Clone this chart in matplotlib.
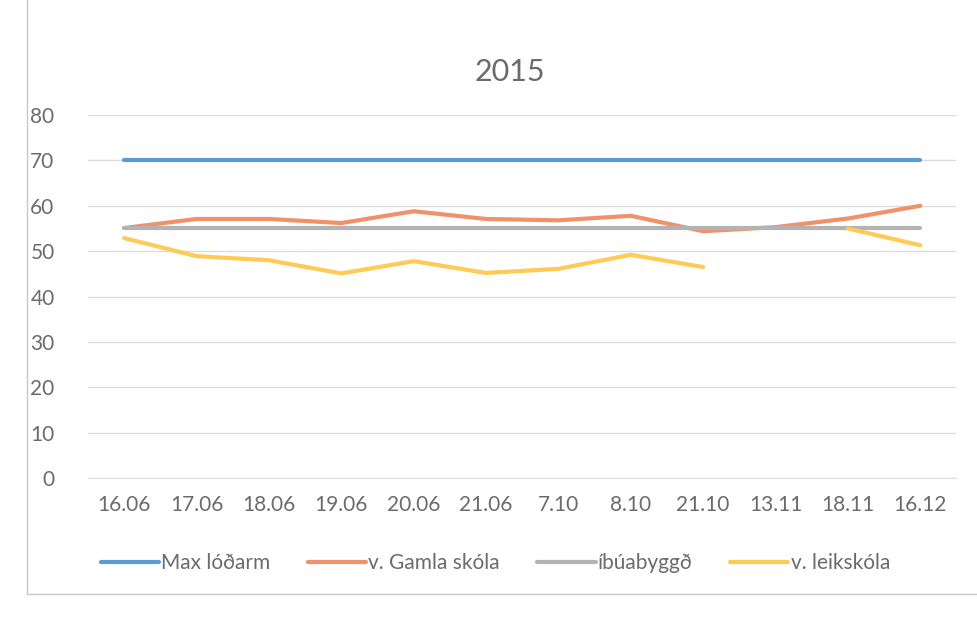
import matplotlib
matplotlib.use("Agg")
import matplotlib.pyplot as plt
import numpy as np

categories = ["16.06", "17.06", "18.06", "19.06", "20.06", "21.06",
              "7.10", "8.10", "21.10", "13.11", "18.11", "16.12"]
max_lodarm = [70, 70, 70, 70, 70, 70, 70, 70, 70, 70, 70, 70]
gamla_skola = [55.1, 57.1, 57.1, 56.2, 58.8, 57.1, 56.8, 57.8, 54.4, 55.3, 57.2, 60.0]
ibuabyggd = [55, 55, 55, 55, 55, 55, 55, 55, 55, 55, 55, 55]
leikskola = [52.9, 48.9, 48.0, 45.1, 47.8, 45.2, 46.1, 49.2, 46.5, np.nan, 55.0, 51.3]
series_names = ["Max lóðarm", "v. Gamla skóla", "íbúabyggð", "v. leikskóla"]
yticks = [0, 10, 20, 30, 40, 50, 60, 70, 80]

colors = ["#5b9bd5", "#f0916a", "#b3b3b3", "#ffca55"]
txt = "#6b6b6b"
plt.rcParams['font.family'] = ['Lato', 'DejaVu Sans']

fig = plt.figure(figsize=(9.77, 6.19), dpi=100)
ax = fig.add_axes([0.09, 0.228, 0.889, 0.586])
x = np.arange(len(categories))
for vals, name, c in zip([max_lodarm, gamla_skola, ibuabyggd, leikskola], series_names, colors):
    ax.plot(x, vals, color=c, lw=3, label=name, solid_capstyle='round', solid_joinstyle='round')

ax.set_xlim(-0.5, len(categories) - 0.5)
ax.set_ylim(0, 80)
ax.set_yticks(yticks)
ax.set_xticks(x)
ax.set_xticklabels(categories)
ax.tick_params(length=0, labelsize=15, colors=txt, pad=12)
ax.tick_params(axis='y', pad=24)
ax.yaxis.grid(True, color="#dcdcdc", lw=1)
ax.set_axisbelow(True)
for s in ["top", "right", "left"]:
    ax.spines[s].set_visible(False)
ax.spines["bottom"].set_color("#dcdcdc")

fig.text(0.522, 0.883, "2015", ha="center", va="center", fontsize=22, color=txt)
leg = fig.legend(loc="center", bbox_to_anchor=(0.507, 0.09), ncol=4, frameon=False,
                 fontsize=15, handlelength=2.8, handletextpad=0.1, columnspacing=1.8)
for t in leg.get_texts():
    t.set_color(txt)

fig.add_artist(plt.Rectangle((0.028, 0.04), 0.99, 0.99, transform=fig.transFigure,
                             fill=False, ec="#c8c8c8", lw=1))
fig.savefig("out.png", dpi=100)
